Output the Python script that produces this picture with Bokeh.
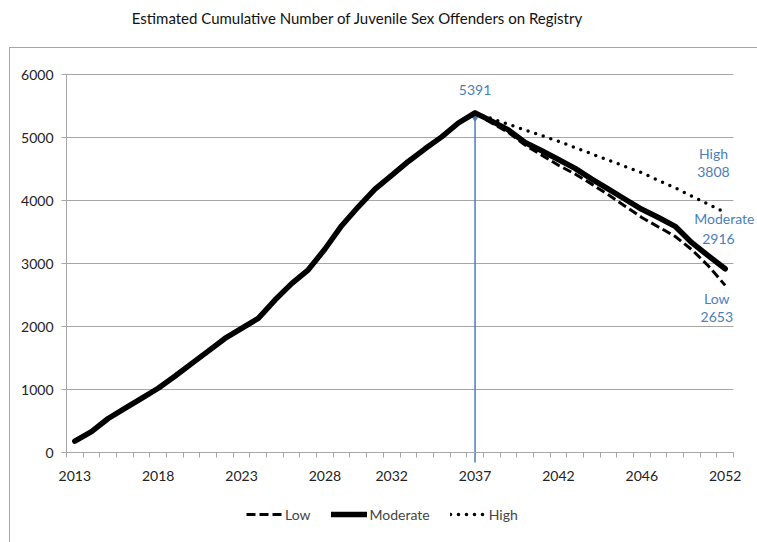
from bokeh.plotting import figure
from bokeh.models import (FixedTicker, Legend, LegendItem, Label, InlineStyleSheet)
from bokeh.embed import file_html
from bokeh.resources import INLINE

# ---------------- data ----------------
title_text = "Estimated Cumulative Number of Juvenile Sex Offenders on Registry"
n_categories = 40
tick_positions = [0, 5, 10, 15, 19, 24, 29, 34, 39]
tick_labels = ["2013", "2018", "2023", "2028", "2032", "2037", "2042", "2046", "2052"]
y_ticks = [0, 1000, 2000, 3000, 4000, 5000, 6000]

moderate = [180, 330, 540, 700, 860, 1020, 1210, 1410, 1610, 1810,
            1970, 2130, 2420, 2680, 2900, 3230, 3600, 3900, 4180, 4400,
            4620, 4820, 5010, 5230, 5391, 5260, 5120, 4920, 4790, 4650,
            4510, 4340, 4180, 4020, 3860, 3730, 3590, 3330, 3120, 2916]
peak_index = 24
low = [5391, 5230, 5080, 4880, 4720, 4560, 4420, 4260, 4090, 3910,
       3730, 3580, 3430, 3220, 2960, 2653]
high = [5391, 5300, 5210, 5120, 5030, 4940, 4840, 4740, 4640, 4540,
        4440, 4320, 4200, 4070, 3940, 3808]

FONT = "Lato"
BLUE = "#4a7ebb"
GRID = "#a6a6a6"

x_mod = list(range(n_categories))
x_proj = list(range(peak_index, n_categories))

# plot area: 667 x 378 px for 40 categories x 6000, placed 66 px from the
# left and 90 px from the bottom of a frame that fills the whole canvas,
# so that side texts, title and legend are not clipped.
FRAME_W, FRAME_H = 757, 542
LEFT_PAD, BOTTOM_PAD = 66, 90
px_per_cat = 667 / n_categories
px_per_unit = 378 / 6000
x_start = -0.5 - LEFT_PAD / px_per_cat
x_end = x_start + FRAME_W / px_per_cat
y_start = -BOTTOM_PAD / px_per_unit
y_end = y_start + FRAME_H / px_per_unit

p = figure(frame_width=FRAME_W, frame_height=FRAME_H, output_backend="svg",
           toolbar_location=None, title=None,
           x_range=(x_start, x_end), y_range=(y_start, y_end),
           min_border_left=0, min_border_right=0, min_border_top=0,
           min_border_bottom=0)
p.outline_line_color = None
p.background_fill_color = "white"
p.border_fill_color = "white"
p.stylesheets = [InlineStyleSheet(css=""":host::after {content: ''; position: absolute;
 left: 9px; top: 47px; width: 800px; height: 600px; border: 1px solid #a6a6a6;
 pointer-events: none; box-sizing: border-box;}""")]

# horizontal gridlines limited to the plot area
p.xgrid.grid_line_color = None
p.ygrid.grid_line_color = None
p.segment(x0=[-0.5] * len(y_ticks), y0=y_ticks,
          x1=[n_categories - 0.5] * len(y_ticks), y1=y_ticks,
          line_color=GRID, line_width=1, level="underlay")

# axes
p.yaxis.fixed_location = -0.5
p.yaxis.ticker = FixedTicker(ticks=y_ticks)
p.yaxis.bounds = (0, max(y_ticks))
p.yaxis.axis_line_color = GRID
p.yaxis.major_tick_line_color = GRID
p.yaxis.major_tick_out = 5
p.yaxis.major_tick_in = 0
p.yaxis.minor_tick_line_color = None
p.yaxis.major_label_text_font = FONT
p.yaxis.major_label_text_font_size = "14px"
p.yaxis.major_label_text_color = "#222222"
p.yaxis.major_label_standoff = 8

p.xaxis.fixed_location = 0
p.xaxis.ticker = FixedTicker(ticks=tick_positions,
                             minor_ticks=[i - 0.5 for i in range(n_categories + 1)])
p.xaxis.bounds = (-0.5, n_categories - 0.5)
p.xaxis.major_label_overrides = {t: l for t, l in zip(tick_positions, tick_labels)}
p.xaxis.axis_line_color = GRID
p.xaxis.major_tick_line_color = None
p.xaxis.minor_tick_line_color = GRID
p.xaxis.minor_tick_out = 5
p.xaxis.minor_tick_in = 0
p.xaxis.major_label_text_font = FONT
p.xaxis.major_label_text_font_size = "14px"
p.xaxis.major_label_text_color = "#222222"
p.xaxis.major_label_standoff = 12

# peak marker line
p.segment(x0=[peak_index], y0=[-160], x1=[peak_index], y1=[moderate[peak_index]],
          line_color=BLUE, line_width=1.5)
p.scatter(x=[peak_index], y=[moderate[peak_index] - 60], marker="diamond",
          size=9, color=BLUE)

# series
r_low = p.line(x_proj, low, line_color="black", line_width=3, line_dash="9 4")
r_high = p.line(x_proj, high, line_color="black", line_width=3.5,
                line_dash="0 8", line_cap="round")
r_mod = p.line(x_mod, moderate, line_color="black", line_width=5.5,
               line_join="round", line_cap="round")

legend = Legend(items=[LegendItem(label="Low", renderers=[r_low]),
                       LegendItem(label="Moderate", renderers=[r_mod]),
                       LegendItem(label="High", renderers=[r_high])],
                orientation="horizontal", location=(246, 18),
                label_text_font=FONT, label_text_font_size="14px",
                glyph_width=36, spacing=20, label_standoff=3,
                border_line_color=None, background_fill_alpha=0,
                margin=0, padding=2)
p.add_layout(legend, "center")

# annotations
def lab(x, y, text, **kw):
    p.add_layout(Label(x=x, y=y, text=text, text_font=FONT,
                       text_font_size="14px", text_color=BLUE,
                       text_align="center", text_baseline="middle", **kw))

lab(peak_index, moderate[peak_index] + 360, str(moderate[peak_index]))
last = n_categories - 1
lab(last - 0.7, high[-1] + 940, "High")
lab(last - 0.7, high[-1] + 640, str(high[-1]))
lab(last - 0.05, moderate[-1] + 800, "Moderate")
lab(last - 0.4, moderate[-1] + 480, str(moderate[-1]))
lab(last - 0.5, low[-1] - 210, "Low")
lab(last - 0.5, low[-1] - 510, str(low[-1]))

# title (above chart area)
p.add_layout(Label(x=357, y=FRAME_H - 17, x_units="screen", y_units="screen",
                   text=title_text, text_font=FONT, text_font_size="15px",
                   text_color="#111111", text_align="center",
                   text_baseline="middle"))

open("out.html", "w").write(file_html(p, INLINE))
